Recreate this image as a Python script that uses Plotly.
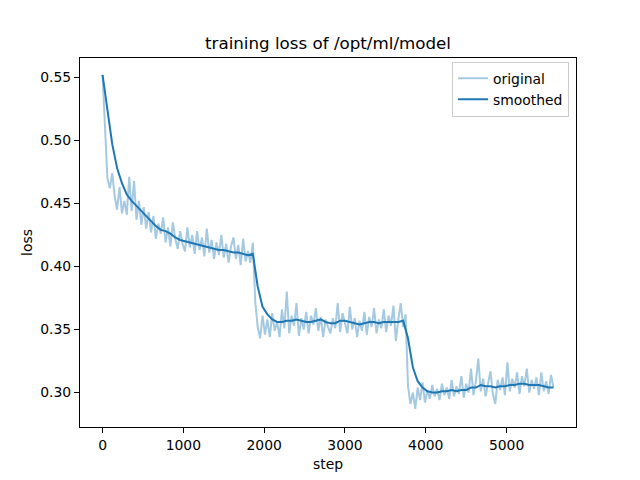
import plotly.graph_objects as go

loss_original = [
    0.552, 0.505, 0.470, 0.462, 0.474, 0.456, 0.445, 0.463, 0.442, 0.452,
    0.441, 0.471, 0.444, 0.468, 0.437, 0.452, 0.433, 0.447, 0.430, 0.443,
    0.427, 0.440, 0.422, 0.434, 0.426, 0.439, 0.419, 0.431, 0.416, 0.435,
    0.422, 0.414, 0.428, 0.418, 0.412, 0.431, 0.415, 0.425, 0.410, 0.428,
    0.413, 0.423, 0.408, 0.430, 0.411, 0.421, 0.406, 0.419, 0.409, 0.425,
    0.407, 0.418, 0.403, 0.416, 0.423, 0.406, 0.417, 0.401, 0.422, 0.404,
    0.412, 0.403, 0.419, 0.372, 0.352, 0.343, 0.361, 0.346, 0.358, 0.344,
    0.363, 0.349, 0.356, 0.344, 0.366, 0.351, 0.380, 0.347, 0.361, 0.353,
    0.371, 0.345, 0.359, 0.350, 0.364, 0.347, 0.361, 0.354, 0.367, 0.349,
    0.360, 0.344, 0.358, 0.352, 0.347, 0.359, 0.351, 0.371, 0.348, 0.363,
    0.355, 0.347, 0.368, 0.350, 0.359, 0.344, 0.357, 0.349, 0.364, 0.346,
    0.360, 0.352, 0.367, 0.347, 0.358, 0.351, 0.366, 0.348, 0.361, 0.353,
    0.369, 0.341, 0.358, 0.371, 0.352, 0.362, 0.305, 0.291, 0.300, 0.287,
    0.304, 0.294, 0.308, 0.292, 0.302, 0.295, 0.306, 0.297, 0.303, 0.294,
    0.307, 0.298, 0.304, 0.295, 0.310, 0.297, 0.305, 0.299, 0.313, 0.296,
    0.307, 0.300, 0.319, 0.298, 0.309, 0.327, 0.301, 0.311, 0.297, 0.307,
    0.317, 0.299, 0.291, 0.310, 0.302, 0.312, 0.298, 0.324, 0.301, 0.311,
    0.304, 0.316, 0.299, 0.313, 0.305, 0.319, 0.300, 0.310, 0.303, 0.312,
    0.298, 0.316, 0.301, 0.309, 0.299, 0.314, 0.304,
]
steps_original = list(range(0, 30 * len(loss_original), 30))

# smoothed curve, every 60 steps
loss_smoothed = [
    0.552, 0.525, 0.497, 0.478, 0.466, 0.457, 0.452, 0.448, 0.444, 0.440,
    0.436, 0.432, 0.429, 0.428, 0.426, 0.423, 0.421, 0.420, 0.419, 0.418,
    0.417, 0.416, 0.415, 0.414, 0.413, 0.413, 0.412, 0.411, 0.411, 0.410,
    0.409, 0.410, 0.384, 0.368, 0.362, 0.358, 0.356, 0.356, 0.357, 0.357,
    0.358, 0.357, 0.356, 0.356, 0.357, 0.358, 0.356, 0.355, 0.355, 0.357,
    0.357, 0.356, 0.355, 0.354, 0.355, 0.356, 0.356, 0.355, 0.356, 0.356,
    0.356, 0.356, 0.357, 0.343, 0.320, 0.309, 0.304, 0.301, 0.300, 0.300,
    0.301, 0.301, 0.302, 0.301, 0.302, 0.302, 0.304, 0.304, 0.306, 0.305,
    0.305, 0.304, 0.305, 0.305, 0.306, 0.306, 0.307, 0.307, 0.306, 0.306,
    0.306, 0.305, 0.304, 0.304,
]
steps_smoothed = list(range(0, 60 * len(loss_smoothed), 60))

x_ticks = [0, 1000, 2000, 3000, 4000, 5000]
y_ticks = [0.30, 0.35, 0.40, 0.45, 0.50, 0.55]

font = dict(family='DejaVu Sans', size=13.9, color='black')

fig = go.Figure()
fig.add_trace(
    go.Scatter(
        x=steps_original,
        y=loss_original,
        mode='lines',
        name='original',
        line=dict(color='rgba(31,119,180,0.4)', width=2),
    )
)
fig.add_trace(
    go.Scatter(
        x=steps_smoothed,
        y=loss_smoothed,
        mode='lines',
        name='smoothed',
        line=dict(color='#1f77b4', width=2),
    )
)

axis_common = dict(
    showgrid=False,
    zeroline=False,
    showline=True,
    mirror=True,
    linecolor='black',
    linewidth=1,
    ticks='outside',
    ticklen=5,
    tickwidth=1,
    tickcolor='black',
    tickfont=font,
    automargin=False,
)

# the page adds an 8px body margin, so the figure is 8px smaller
fig.update_layout(
    width=632,
    height=472,
    margin=dict(l=72, r=64, t=50, b=53, autoexpand=False),
    paper_bgcolor='white',
    plot_bgcolor='white',
    font=font,
    title=dict(
        text='training loss of /opt/ml/model',
        font=dict(family='DejaVu Sans', size=16.7, color='black'),
        x=0.5,
        xanchor='center',
        xref='paper',
        yref='container',
        y=0.926,
        yanchor='middle',
        automargin=False,
    ),
    xaxis=dict(
        range=[-279, 5859],
        tickvals=x_ticks,
        title=dict(text='step', font=font, standoff=7),
        **axis_common,
    ),
    yaxis=dict(
        range=[0.2727, 0.5653],
        tickvals=y_ticks,
        tickformat='.2f',
        title=dict(text='loss', font=font, standoff=4),
        **axis_common,
    ),
    legend=dict(
        x=0.986,
        y=0.99,
        xanchor='right',
        yanchor='top',
        bgcolor='rgba(255,255,255,0.8)',
        bordercolor='#cccccc',
        borderwidth=1,
        font=font,
        tracegroupgap=0,
    ),
    showlegend=True,
)

fig.write_html('out.html')
